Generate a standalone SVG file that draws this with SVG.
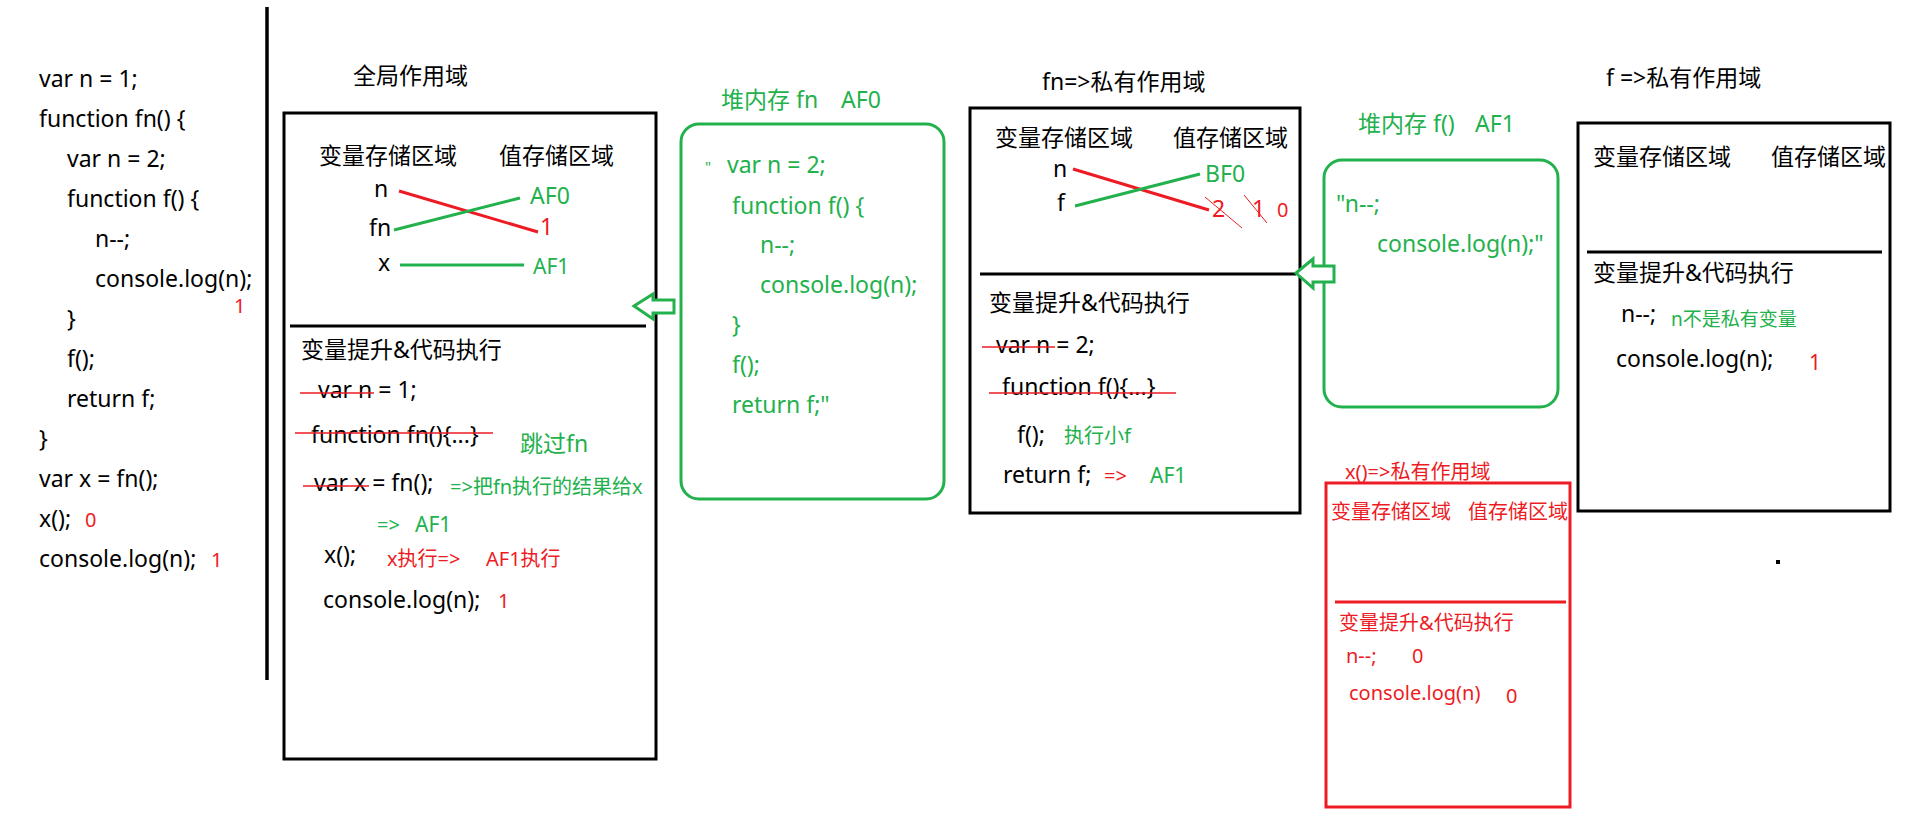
<svg xmlns="http://www.w3.org/2000/svg" width="1913" height="816" viewBox="0 0 1913 816">
<style>
text{font-family:"Noto Sans","Noto Sans CJK SC",sans-serif;font-size:23px;fill:#000}
.g{fill:#22b14c}
.r{fill:#ed1c24}
text.s{font-size:20px}
text.f21{font-size:21px}
text.f19{font-size:19px}
text.q{font-size:15px}
.box{fill:none;stroke:#000;stroke-width:3}
.rbox{fill:none;stroke:#ed1c24;stroke-width:3}
.heap{fill:none;stroke:#22b14c;stroke-width:3}
.div{stroke:#000;stroke-width:3}
.strike{stroke:#ed1c24;stroke-width:1.6}
.thin{stroke:#ed1c24;stroke-width:1}
.lr{stroke:#ed1c24;stroke-width:3}
.lg{stroke:#22b14c;stroke-width:3}
.arrow{fill:#fff;stroke:#22b14c;stroke-width:3}
</style>
<rect width="1913" height="816" fill="#fff"/>

<g id="source-code">
<text x="39" y="87">var n = 1;</text>
<text x="39" y="127">function fn() {</text>
<text x="67" y="167">var n = 2;</text>
<text x="67" y="207">function f() {</text>
<text x="95" y="247">n--;</text>
<text x="95" y="287">console.log(n);</text>
<text x="234" y="313" class="r s">1</text>
<text x="67" y="327">}</text>
<text x="67" y="367">f();</text>
<text x="67" y="407">return f;</text>
<text x="39" y="447">}</text>
<text x="39" y="487">var x = fn();</text>
<text x="39" y="527">x();</text>
<text x="85" y="527" class="r s">0</text>
<text x="39" y="567">console.log(n);</text>
<text x="211" y="567" class="r s">1</text>
<line x1="267" y1="7" x2="267" y2="680" stroke="#000" stroke-width="3.5"/>
</g>

<g id="global-scope">
<text x="353" y="84">全局作用域</text>
<rect x="284" y="113" width="372" height="646" class="box"/>
<text x="319" y="164">变量存储区域</text>
<text x="499" y="164">值存储区域</text>
<text x="374" y="197">n</text>
<text x="369" y="236">fn</text>
<text x="378" y="271">x</text>
<text x="530" y="204" class="g">AF0</text>
<text x="540" y="235" class="r">1</text>
<text x="533" y="274" class="g f21">AF1</text>
<line x1="290" y1="326" x2="646" y2="326" class="div"/>
<text x="301" y="358">变量提升&amp;代码执行</text>
<text x="318" y="398">var n = 1;</text>
<line x1="300" y1="393" x2="374" y2="393" class="strike"/>
<text x="311" y="443">function fn(){...}</text>
<line x1="295" y1="433" x2="493" y2="433" class="strike"/>
<text x="520" y="452" class="g">跳过fn</text>
<text x="314" y="491">var x = fn();</text>
<line x1="303" y1="486" x2="369" y2="486" class="strike"/>
<text x="450" y="494" class="g s">=&gt;把fn执行的结果给x</text>
<text x="377" y="532" class="g s">=&gt;</text>
<text x="415" y="532" class="g f21">AF1</text>
<text x="324" y="563">x();</text>
<text x="387" y="566" class="r s">x执行=&gt;</text>
<text x="486" y="566" class="r s">AF1执行</text>
<text x="323" y="608">console.log(n);</text>
<text x="498" y="608" class="r s">1</text>
</g>

<g id="heap-fn-AF0">
<text x="721" y="108" class="g">堆内存 fn</text>
<text x="841" y="108" class="g">AF0</text>
<rect x="681" y="124" width="263" height="375" rx="18" class="heap"/>
<text x="705" y="172" class="g q">"</text>
<text x="727" y="173" class="g">var n = 2;</text>
<text x="732" y="214" class="g">function f() {</text>
<text x="760" y="253" class="g">n--;</text>
<text x="760" y="293" class="g">console.log(n);</text>
<text x="732" y="333" class="g">}</text>
<text x="732" y="373" class="g">f();</text>
<text x="732" y="413" class="g">return f;"</text>
</g>

<g id="fn-scope">
<text x="1042" y="90">fn=&gt;私有作用域</text>
<rect x="970" y="108" width="330" height="405" class="box"/>
<text x="995" y="146">变量存储区域</text>
<text x="1173" y="146">值存储区域</text>
<text x="1053" y="177">n</text>
<text x="1057" y="211">f</text>
<text x="1205" y="182" class="g">BF0</text>
<text x="1212" y="217" class="r">2</text>
<line x1="1205" y1="197" x2="1242" y2="228" class="thin"/>
<text x="1252" y="217" class="r">1</text>
<line x1="1244" y1="195" x2="1267" y2="223" class="thin"/>
<text x="1277" y="217" class="r s">0</text>
<line x1="980" y1="274" x2="1296" y2="274" class="div"/>
<text x="989" y="311">变量提升&amp;代码执行</text>
<text x="996" y="353">var n = 2;</text>
<line x1="982" y1="347" x2="1055" y2="347" class="strike"/>
<text x="1002" y="395">function f(){...}</text>
<line x1="989" y1="393" x2="1176" y2="393" class="strike"/>
<text x="1017" y="443">f();</text>
<text x="1064" y="443" class="g s">执行小f</text>
<text x="1003" y="483">return f;</text>
<text x="1104" y="483" class="r s">=&gt;</text>
<text x="1150" y="483" class="g f21">AF1</text>
</g>

<g id="heap-f-AF1">
<text x="1358" y="132" class="g">堆内存 f()</text>
<text x="1475" y="132" class="g">AF1</text>
<rect x="1324" y="160" width="234" height="247" rx="18" class="heap"/>
<text x="1336" y="212" class="g">"n--;</text>
<text x="1377" y="252" class="g">console.log(n);"</text>
</g>

<g id="f-scope">
<text x="1606" y="86">f =&gt;私有作用域</text>
<rect x="1578" y="123" width="312" height="388" class="box"/>
<text x="1593" y="165">变量存储区域</text>
<text x="1771" y="165">值存储区域</text>
<line x1="1587" y1="252" x2="1882" y2="252" class="div"/>
<text x="1593" y="281">变量提升&amp;代码执行</text>
<text x="1621" y="322">n--;</text>
<text x="1671" y="326" class="g f19">n不是私有变量</text>
<text x="1616" y="367">console.log(n);</text>
<text x="1809" y="370" class="r f21">1</text>
<rect x="1776" y="560" width="4" height="4" fill="#000"/>
</g>

<g id="x-scope">
<text x="1345" y="479" class="r s">x()=&gt;私有作用域</text>
<rect x="1326" y="483" width="244" height="324" class="rbox"/>
<text x="1331" y="519" class="r s">变量存储区域</text>
<text x="1468" y="519" class="r s">值存储区域</text>
<line x1="1335" y1="602" x2="1566" y2="602" stroke="#ed1c24" stroke-width="3"/>
<text x="1339" y="630" class="r s">变量提升&amp;代码执行</text>
<text x="1346" y="663" class="r s">n--;</text>
<text x="1412" y="663" class="r s">0</text>
<text x="1349" y="700" class="r s">console.log(n)</text>
<text x="1506" y="703" class="r s">0</text>
</g>

<g id="connectors">
<line x1="399" y1="191" x2="538" y2="232" class="lr"/>
<line x1="394" y1="230" x2="520" y2="198" class="lg"/>
<line x1="400" y1="265" x2="524" y2="265" class="lg"/>
<line x1="1073" y1="169" x2="1209" y2="210" class="lr"/>
<line x1="1075" y1="206" x2="1200" y2="174" class="lg"/>
<polygon points="634,306 653,294 653,300 674,300 674,313 653,313 653,319" class="arrow"/>
<polygon points="1296,273 1313,259 1313,266 1334,266 1334,282 1313,282 1313,288" class="arrow"/>
</g>
</svg>
